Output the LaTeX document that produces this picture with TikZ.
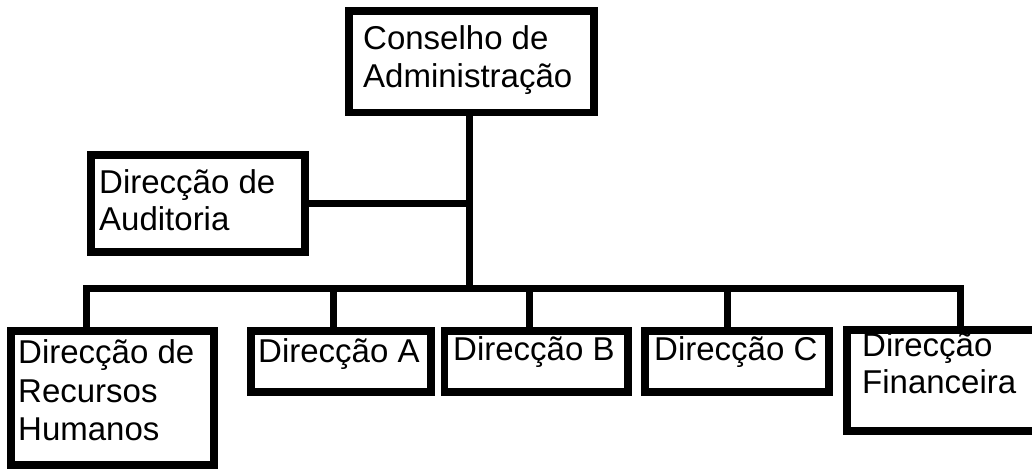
\documentclass[tikz,border=0pt]{standalone}
\usepackage{fontspec}
\setmainfont{Liberation Sans}
\begin{document}
\begin{tikzpicture}[x=1pt,y=-1pt,
  box/.style={draw=black, line width=7.5pt, rectangle, inner sep=0pt, fill=white},
  conn/.style={draw=black, line width=7pt, line join=miter},
  lbl/.style={anchor=base west, inner sep=0pt, font=\fontsize{33}{38}\selectfont, text=black}]
\clip (0,0) rectangle (1032,468);
\useasboundingbox (0,0) rectangle (1032,468);
\fill[white] (0,0) rectangle (1032,468);
% boxes
\node[box, minimum width=245pt, minimum height=101.5pt] (cons) at (471.5,61.75) {};
\node[box, minimum width=214pt, minimum height=97pt] (aud) at (198,203.5) {};
\node[box, minimum width=203pt, minimum height=134pt] (rh) at (112.5,398) {};
\node[box, minimum width=180pt, minimum height=61pt] (dA) at (341,361.5) {};
\node[box, minimum width=183.5pt, minimum height=61pt] (dB) at (536.25,361.5) {};
\node[box, minimum width=184pt, minimum height=61pt] (dC) at (737,361.5) {};
\node[box, minimum width=193pt, minimum height=101pt] (fin) at (943.5,380.5) {};
% bus coordinates
\coordinate (busC) at (469,288);
\coordinate (busL) at (86,288);
\coordinate (busR) at (960,288);
\coordinate (tA) at (333,288);
\coordinate (tB) at (529,288);
\coordinate (tC) at (727,288);
% connectors
\draw[conn] (cons.south -| busC) -- (busC);
\draw[conn] (aud.east) -- (aud.east -| busC);
\draw[conn] (rh.north -| busL) -- (busL) -- (busR) -- (fin.north -| busR);
\draw[conn] (tA) -- (dA.north -| tA);
\draw[conn] (tB) -- (dB.north -| tB);
\draw[conn] (tC) -- (dC.north -| tC);
% texts
\node[lbl] (t1) at (363,50) {Conselho de};
\node[lbl] (t2) at (363,88) {Administração};
\node[lbl] (t3) at (99,193) {Direcção de};
\node[lbl] (t4) at (99,230) {Auditoria};
\node[lbl] (t5) at (18,363) {Direcção de};
\node[lbl] (t6) at (18,402) {Recursos};
\node[lbl] (t7) at (18,440) {Humanos};
\node[lbl] (t8) at (258,362) {Direcção A};
\node[lbl] (t9) at (453,360) {Direcção B};
\node[lbl] (t10) at (654,360) {Direcção C};
\node[lbl] (t11) at (862,356) {Direcção};
\node[lbl] (t12) at (862,393) {Financeira};
\end{tikzpicture}
\end{document}
